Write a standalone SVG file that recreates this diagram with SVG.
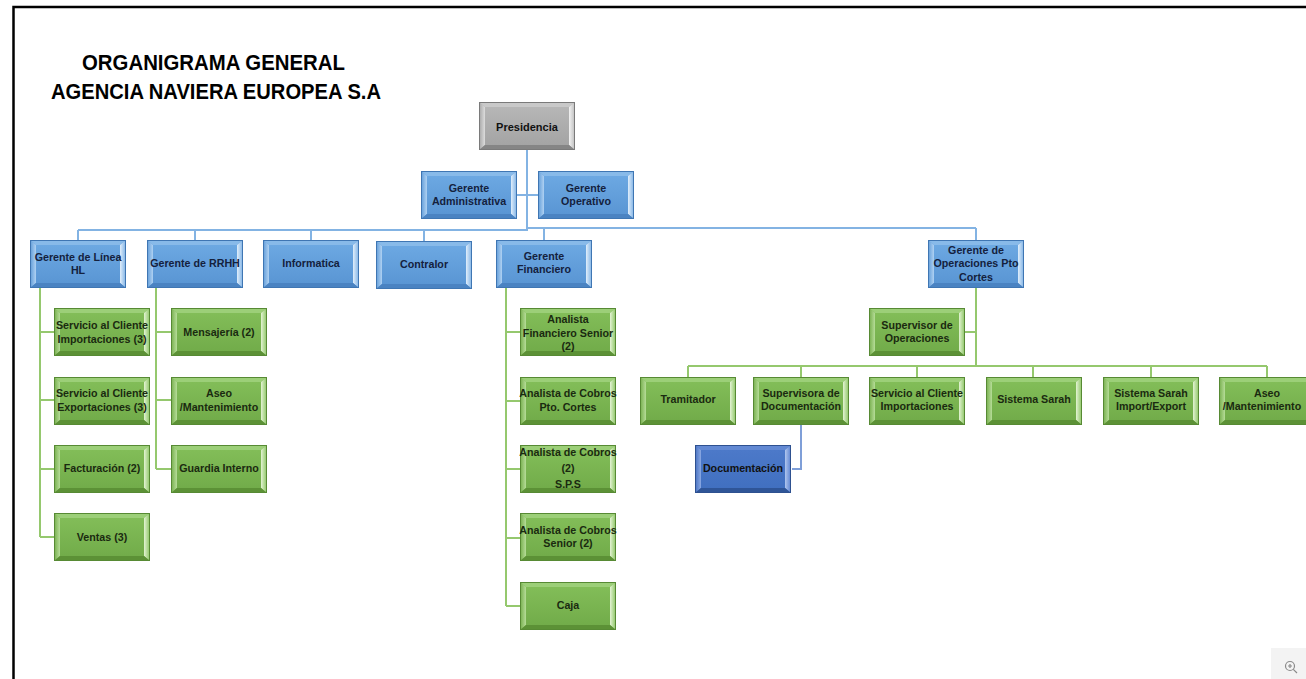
<svg xmlns="http://www.w3.org/2000/svg" xmlns:xlink="http://www.w3.org/1999/xlink" width="1306" height="679" viewBox="0 0 1306 679">
<style>
.t{font-family:"Liberation Sans",Arial,sans-serif;font-weight:bold;font-size:10.7px;text-anchor:middle}
.tb{fill:#14213d}
.tg{fill:#1a2a10}
.tk{fill:#111}
.title{font-family:"Liberation Sans",Arial,sans-serif;font-weight:bold;font-size:22px;fill:#000;text-anchor:middle}
.cb{stroke:#83b3e3;stroke-width:2;fill:none}
.cg{stroke:#95c86e;stroke-width:2;fill:none}
.cd{stroke:#7f9fd8;stroke-width:2;fill:none}
</style>
<defs>
<linearGradient id="bL" x1="0" y1="0" x2="1" y2="0"><stop offset="0" stop-color="#5f9bd8"/><stop offset="1" stop-color="#afd1f2"/></linearGradient>
<linearGradient id="bR" x1="0" y1="0" x2="1" y2="0"><stop offset="0" stop-color="#e0eefb"/><stop offset="1" stop-color="#7cb0e4"/></linearGradient>
<linearGradient id="bF" x1="0" y1="0" x2="0" y2="1"><stop offset="0" stop-color="#6ca8e2"/><stop offset="1" stop-color="#5a96d4"/></linearGradient>
<linearGradient id="gL" x1="0" y1="0" x2="1" y2="0"><stop offset="0" stop-color="#74ad4a"/><stop offset="1" stop-color="#b6dc98"/></linearGradient>
<linearGradient id="gR" x1="0" y1="0" x2="1" y2="0"><stop offset="0" stop-color="#e3f3d3"/><stop offset="1" stop-color="#89c360"/></linearGradient>
<linearGradient id="gF" x1="0" y1="0" x2="0" y2="1"><stop offset="0" stop-color="#82bd58"/><stop offset="1" stop-color="#72ac4a"/></linearGradient>
<linearGradient id="kL" x1="0" y1="0" x2="1" y2="0"><stop offset="0" stop-color="#a5a5a5"/><stop offset="1" stop-color="#dcdcdc"/></linearGradient>
<linearGradient id="kR" x1="0" y1="0" x2="1" y2="0"><stop offset="0" stop-color="#f2f2f2"/><stop offset="1" stop-color="#bcbcbc"/></linearGradient>
<linearGradient id="kF" x1="0" y1="0" x2="0" y2="1"><stop offset="0" stop-color="#b6b6b6"/><stop offset="1" stop-color="#a4a4a4"/></linearGradient>
<linearGradient id="dL" x1="0" y1="0" x2="1" y2="0"><stop offset="0" stop-color="#456fc0"/><stop offset="1" stop-color="#8aa8e2"/></linearGradient>
<linearGradient id="dR" x1="0" y1="0" x2="1" y2="0"><stop offset="0" stop-color="#b0c6ee"/><stop offset="1" stop-color="#5a81cf"/></linearGradient>
<linearGradient id="dF" x1="0" y1="0" x2="0" y2="1"><stop offset="0" stop-color="#4c79c9"/><stop offset="1" stop-color="#4170c0"/></linearGradient>
<g id="bx-blue">
<rect x="0" y="0" width="96" height="48" fill="#5b97d6"/>
<polygon points="0,0 96,0 90,5 6,5" fill="#88bae9"/>
<polygon points="0,0 6,5 6,43 0,48" fill="url(#bL)"/>
<polygon points="96,0 96,48 90,43 90,5" fill="url(#bR)"/>
<polygon points="0,48 6,43 90,43 96,48" fill="#4a83c2"/>
<rect x="6" y="5" width="84" height="38" fill="url(#bF)"/>
<rect x="0.5" y="0.5" width="95" height="47" fill="none" stroke="#3f76b3"/>
</g>
<g id="bx-green">
<rect x="0" y="0" width="96" height="48" fill="#77b14d"/>
<polygon points="0,0 96,0 90,5 6,5" fill="#9ccf78"/>
<polygon points="0,0 6,5 6,43 0,48" fill="url(#gL)"/>
<polygon points="96,0 96,48 90,43 90,5" fill="url(#gR)"/>
<polygon points="0,48 6,43 90,43 96,48" fill="#5c9136"/>
<rect x="6" y="5" width="84" height="38" fill="url(#gF)"/>
<rect x="0.5" y="0.5" width="95" height="47" fill="none" stroke="#578a34"/>
</g>
<g id="bx-gray">
<rect x="0" y="0" width="96" height="48" fill="#aaaaaa"/>
<polygon points="0,0 96,0 90,5 6,5" fill="#c9c9c9"/>
<polygon points="0,0 6,5 6,43 0,48" fill="url(#kL)"/>
<polygon points="96,0 96,48 90,43 90,5" fill="url(#kR)"/>
<polygon points="0,48 6,43 90,43 96,48" fill="#858585"/>
<rect x="6" y="5" width="84" height="38" fill="url(#kF)"/>
<rect x="0.5" y="0.5" width="95" height="47" fill="none" stroke="#7a7a7a"/>
</g>
<g id="bx-dark">
<rect x="0" y="0" width="96" height="48" fill="#4472c4"/>
<polygon points="0,0 96,0 90,5 6,5" fill="#6389d3"/>
<polygon points="0,0 6,5 6,43 0,48" fill="url(#dL)"/>
<polygon points="96,0 96,48 90,43 90,5" fill="url(#dR)"/>
<polygon points="0,48 6,43 90,43 96,48" fill="#2f5597"/>
<rect x="6" y="5" width="84" height="38" fill="url(#dF)"/>
<rect x="0.5" y="0.5" width="95" height="47" fill="none" stroke="#2e5190"/>
</g>
</defs>
<rect x="0" y="0" width="1306" height="679" fill="#fff"/>
<path d="M13.5,679 V7 H1306" fill="none" stroke="#000" stroke-width="2.5"/>
<g id="title">
<text class="title" x="213.5" y="70" textLength="263" lengthAdjust="spacingAndGlyphs">ORGANIGRAMA GENERAL</text>
<text class="title" x="216" y="99" textLength="330" lengthAdjust="spacingAndGlyphs">AGENCIA NAVIERA EUROPEA S.A</text>
</g>
<g id="connectors">
<path class="cb" d="M527,150 V230 M517,195 H538 M78,230 H527 V228 H976 M78,230 V240 M195,230 V240 M311,230 V240 M424,230 V241 M544,228 V240 M976,228 V240"/>
<path class="cg" d="M40,288 V537 M40,332 H54 M40,400 H54 M40,469 H54 M40,537 H54"/>
<path class="cg" d="M156,288 V469 M156,332 H171 M156,400 H171 M156,469 H171"/>
<path class="cg" d="M506,288 V606 M506,332 H520 M506,401 H520 M506,469 H520 M506,538 H520 M506,606 H520"/>
<path class="cg" d="M976,287 V366 M965,332 H976 M688,366 H1267 M688,366 V377 M801,366 V377 M917,366 V377 M1033,366 V377 M1151,366 V377 M1267,366 V377"/>
<path class="cd" d="M801,424 V469 H792"/>
</g>
<g id="n-presidencia"><use xlink:href="#bx-gray" x="479" y="102"/><text class="t tk" x="527" y="131" style="font-size:11px">Presidencia</text></g>
<g id="n-gadmin"><use xlink:href="#bx-blue" x="421" y="171"/><text class="t tb" x="469"><tspan x="469" y="192">Gerente</tspan><tspan x="469" y="205">Administrativa</tspan></text></g>
<g id="n-goper"><use xlink:href="#bx-blue" x="538" y="171"/><text class="t tb"><tspan x="586" y="192">Gerente</tspan><tspan x="586" y="205">Operativo</tspan></text></g>
<g id="n-glinea"><use xlink:href="#bx-blue" x="30" y="240"/><text class="t tb"><tspan x="78" y="261">Gerente de Línea</tspan><tspan x="78" y="274">HL</tspan></text></g>
<g id="n-rrhh"><use xlink:href="#bx-blue" x="147" y="240"/><text class="t tb" x="195" y="267">Gerente de RRHH</text></g>
<g id="n-informatica"><use xlink:href="#bx-blue" x="263" y="240"/><text class="t tb" x="311" y="267">Informatica</text></g>
<g id="n-contralor"><use xlink:href="#bx-blue" x="376" y="241"/><text class="t tb" x="424" y="268">Contralor</text></g>
<g id="n-gfin"><use xlink:href="#bx-blue" x="496" y="240"/><text class="t tb"><tspan x="544" y="260">Gerente</tspan><tspan x="544" y="273">Financiero</tspan></text></g>
<g id="n-gops"><use xlink:href="#bx-blue" x="928" y="240"/><text class="t tb"><tspan x="976" y="254">Gerente de</tspan><tspan x="976" y="267">Operaciones Pto</tspan><tspan x="976" y="281">Cortes</tspan></text></g>
<g id="n-sci3"><use xlink:href="#bx-green" x="54" y="308"/><text class="t tg"><tspan x="102" y="329">Servicio al Cliente</tspan><tspan x="102" y="343">Importaciones (3)</tspan></text></g>
<g id="n-sce3"><use xlink:href="#bx-green" x="54" y="377"/><text class="t tg"><tspan x="102" y="397">Servicio al Cliente</tspan><tspan x="102" y="411">Exportaciones (3)</tspan></text></g>
<g id="n-fact"><use xlink:href="#bx-green" x="54" y="445"/><text class="t tg" x="102" y="472">Facturación (2)</text></g>
<g id="n-ventas"><use xlink:href="#bx-green" x="54" y="513"/><text class="t tg" x="102" y="541">Ventas (3)</text></g>
<g id="n-mensajeria"><use xlink:href="#bx-green" x="171" y="308"/><text class="t tg" x="219" y="336">Mensajería (2)</text></g>
<g id="n-aseo1"><use xlink:href="#bx-green" x="171" y="377"/><text class="t tg"><tspan x="219" y="397">Aseo</tspan><tspan x="219" y="411">/Mantenimiento</tspan></text></g>
<g id="n-guardia"><use xlink:href="#bx-green" x="171" y="445"/><text class="t tg" x="219" y="472">Guardia Interno</text></g>
<g id="n-afs"><use xlink:href="#bx-green" x="520" y="308"/><text class="t tg"><tspan x="568" y="323">Analista</tspan><tspan x="568" y="337">Financiero Senior</tspan><tspan x="568" y="350">(2)</tspan></text></g>
<g id="n-acpc"><use xlink:href="#bx-green" x="520" y="377"/><text class="t tg"><tspan x="568" y="397">Analista de Cobros</tspan><tspan x="568" y="411">Pto. Cortes</tspan></text></g>
<g id="n-acsps"><use xlink:href="#bx-green" x="520" y="445"/><text class="t tg"><tspan x="568" y="456">Analista de Cobros</tspan><tspan x="568" y="472">(2)</tspan><tspan x="568" y="488">S.P.S</tspan></text></g>
<g id="n-acs"><use xlink:href="#bx-green" x="520" y="513"/><text class="t tg"><tspan x="568" y="534">Analista de Cobros</tspan><tspan x="568" y="547">Senior (2)</tspan></text></g>
<g id="n-caja"><use xlink:href="#bx-green" x="520" y="582"/><text class="t tg" x="568" y="609">Caja</text></g>
<g id="n-supops"><use xlink:href="#bx-green" x="869" y="308"/><text class="t tg"><tspan x="917" y="329">Supervisor de</tspan><tspan x="917" y="342">Operaciones</tspan></text></g>
<g id="n-tram"><use xlink:href="#bx-green" x="640" y="377"/><text class="t tg" x="688" y="403">Tramitador</text></g>
<g id="n-supdoc"><use xlink:href="#bx-green" x="753" y="377"/><text class="t tg"><tspan x="801" y="397">Supervisora de</tspan><tspan x="801" y="410">Documentación</tspan></text></g>
<g id="n-sci"><use xlink:href="#bx-green" x="869" y="377"/><text class="t tg"><tspan x="917" y="397">Servicio al Cliente</tspan><tspan x="917" y="410">Importaciones</tspan></text></g>
<g id="n-sarah"><use xlink:href="#bx-green" x="986" y="377"/><text class="t tg" x="1034" y="403">Sistema Sarah</text></g>
<g id="n-sarahie"><use xlink:href="#bx-green" x="1103" y="377"/><text class="t tg"><tspan x="1151" y="397">Sistema Sarah</tspan><tspan x="1151" y="410">Import/Export</tspan></text></g>
<g id="n-aseo2"><use xlink:href="#bx-green" x="1219" y="377"/><text class="t tg"><tspan x="1267" y="397">Aseo</tspan><tspan x="1262" y="410">/Mantenimiento</tspan></text></g>
<g id="n-doc"><use xlink:href="#bx-dark" x="695" y="445"/><text class="t tk" x="743" y="472">Documentación</text></g>
<g id="zoom-icon">
<rect x="1271" y="648" width="35" height="31" fill="#f3f3f3"/>
<circle cx="1290" cy="666" r="4.5" fill="none" stroke="#8a8a8a" stroke-width="1.2"/>
<path d="M1288,666 H1292 M1290,664 V668 M1293.3,669.3 L1297,673" stroke="#8a8a8a" stroke-width="1.2" fill="none"/>
</g>
</svg>
